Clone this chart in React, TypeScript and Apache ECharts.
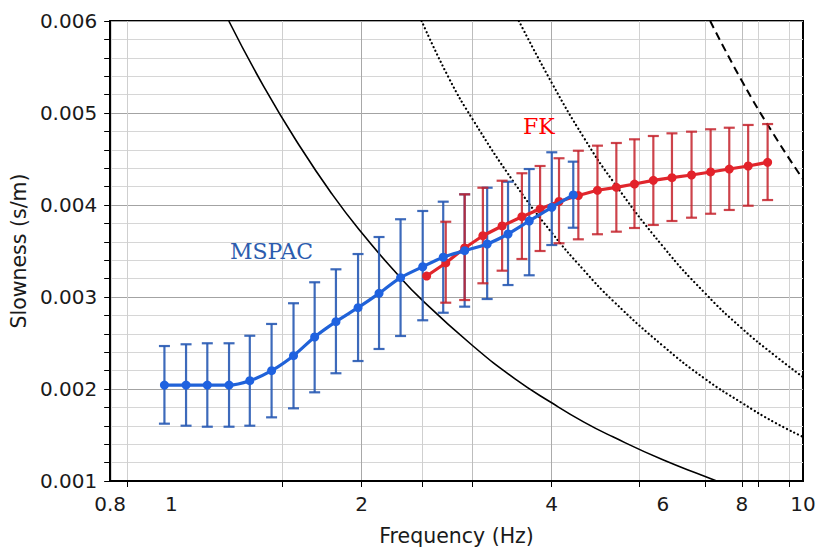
import { useEffect, useRef } from "react";
import * as echarts from "echarts";

// ---- Data ----
const mspacFreq = [0.975, 1.055, 1.14, 1.234, 1.331, 1.441, 1.561, 1.686, 1.822, 1.975, 2.132, 2.306, 2.5, 2.694, 2.913, 3.162, 3.412, 3.686, 4.002, 4.328];
const mspacSlow = [0.002043, 0.002043, 0.002043, 0.002043, 0.00209, 0.002199, 0.002362, 0.002565, 0.002732, 0.002884, 0.00304, 0.00321, 0.003329, 0.003432, 0.003503, 0.003576, 0.003685, 0.003826, 0.003975, 0.004109];
const mspacLow = [0.001623, 0.001601, 0.00159, 0.00159, 0.001601, 0.001692, 0.00179, 0.001964, 0.002171, 0.002304, 0.002435, 0.002576, 0.002747, 0.002829, 0.002895, 0.002978, 0.00313, 0.003236, 0.003565, 0.003753];
const mspacHigh = [0.002467, 0.002486, 0.002497, 0.002497, 0.002579, 0.002707, 0.002932, 0.00316, 0.003301, 0.003467, 0.003652, 0.003845, 0.003935, 0.004036, 0.004116, 0.004188, 0.004253, 0.004391, 0.004573, 0.004471];

const fkFreq = [2.536, 2.719, 2.913, 3.113, 3.339, 3.589, 3.835, 4.109, 4.409, 4.727, 5.064, 5.41, 5.795, 6.202, 6.661, 7.141, 7.643, 8.188, 8.79];
const fkSlow = [0.003228, 0.00337, 0.003533, 0.003666, 0.003772, 0.003873, 0.003957, 0.004038, 0.004103, 0.00416, 0.004192, 0.004228, 0.004268, 0.004297, 0.004326, 0.004359, 0.004391, 0.004424, 0.004464];
const fkLow = [null, 0.002938, 0.002967, 0.003149, 0.003286, 0.003413, 0.0035, 0.003584, 0.003627, 0.003682, 0.00371, 0.00375, 0.003783, 0.003826, 0.003862, 0.003905, 0.003946, 0.003992, 0.004054];
const fkHigh = [null, 0.003818, 0.004116, 0.004188, 0.004264, 0.004345, 0.004424, 0.004508, 0.00459, 0.004645, 0.004674, 0.004714, 0.00475, 0.004779, 0.004797, 0.004823, 0.00484, 0.00487, 0.00488];

// Limit curves
const solidFreq = [1.233, 1.4, 1.6, 1.8, 2, 2.25, 2.5, 3, 3.5, 4, 4.5, 5, 6, 7, 7.3];
const solidSlow = [0.006, 0.00529, 0.00463, 0.00411, 0.0037, 0.00329, 0.00296, 0.00247, 0.00211, 0.00185, 0.00164, 0.00148, 0.00123, 0.00105, 0.001];
const dot1Freq = [2.49, 2.75, 3, 3.5, 4, 4.5, 5, 6, 7, 8, 9, 10];
const dot1Slow = [0.006, 0.00538, 0.00493, 0.00423, 0.0037, 0.00329, 0.00296, 0.00247, 0.00211, 0.00185, 0.00164, 0.00148];
const dot2Freq = [3.55, 4, 4.5, 5, 6, 7, 8, 9, 10];
const dot2Slow = [0.006, 0.00533, 0.00473, 0.00426, 0.00355, 0.00304, 0.00266, 0.00237, 0.00213];
const dashFreq = [7.13, 8, 9, 10];
const dashSlow = [0.006, 0.00535, 0.00476, 0.00428];

const xLabelValues = [0.8, 1, 2, 4, 6, 8, 10];
const xGridValues = [0.85, 1.5, 2, 2.5, 3, 4, 5.5, 7, 8, 8.5, 9.5];

const pairs = (xs: number[], ys: (number | null)[]) => xs.map((x, i) => [x, ys[i]]);
const bars = (xs: number[], lo: (number | null)[], hi: (number | null)[]) =>
  xs.map((x, i) => [x, lo[i], hi[i]]).filter((d) => d[1] != null && d[2] != null);

const errorRender = (color: string) => (params: any, api: any) => {
  const x = api.value(0);
  const pLo = api.coord([x, api.value(1)]);
  const pHi = api.coord([x, api.value(2)]);
  const hw = 5.5;
  const style = { stroke: color, lineWidth: 2.2 };
  return {
    type: "group",
    children: [
      { type: "line", shape: { x1: pLo[0], y1: pLo[1], x2: pHi[0], y2: pHi[1] }, style },
      { type: "line", shape: { x1: pLo[0] - hw, y1: pLo[1], x2: pLo[0] + hw, y2: pLo[1] }, style },
      { type: "line", shape: { x1: pHi[0] - hw, y1: pHi[1], x2: pHi[0] + hw, y2: pHi[1] }, style },
    ],
  };
};

const axisFont = "'DejaVu Sans', Verdana, sans-serif";

export default function App() {
  const ref = useRef<HTMLDivElement>(null);
  useEffect(() => {
    const chart = echarts.init(ref.current!, null, { renderer: "svg" });
    const curve = (xs: number[], ys: number[], type: any, width: number, cap: any = "butt") => ({
      type: "line",
      data: pairs(xs, ys),
      smooth: true,
      symbol: "none",
      silent: true,
      z: 1,
      lineStyle: { color: "#000", width, type, cap },
    });
    chart.setOption({
      animation: false,
      backgroundColor: "#fff",
      grid: { left: 107, right: 16, top: 21, bottom: 73, show: true, borderColor: "#000", borderWidth: 2, backgroundColor: "transparent" },
      xAxis: {
        type: "log",
        logBase: 10,
        min: 0.8,
        max: 10,
        name: "Frequency (Hz)",
        nameLocation: "middle",
        nameGap: 44,
        nameTextStyle: { fontFamily: axisFont, fontSize: 20.5, color: "#1a1a1a" },
        axisLine: { show: true, lineStyle: { color: "#000", width: 2 } },
        axisTick: { show: true, inside: false, length: 6, customValues: xGridValues, lineStyle: { color: "#000" } },
        axisLabel: {
          customValues: xLabelValues,
          margin: 13,
          fontFamily: axisFont,
          fontSize: 20,
          color: "#1a1a1a",
          formatter: (v: number) => String(+Number(v).toPrecision(3)),
        },
        splitLine: {
          show: true,
          lineStyle: {
            width: 1,
            color: ["#cfcfcf", "#cfcfcf", "#a8a8a8", "#cfcfcf", "#bdbdbd", "#ababab", "#d2d2d2", "#cfcfcf", "#bdbdbd", "#d2d2d2", "#d2d2d2"],
          },
        },
        minorTick: { show: false },
      },
      yAxis: {
        type: "value",
        min: 0.001,
        max: 0.006,
        interval: 0.001,
        name: "Slowness (s/m)",
        nameLocation: "middle",
        nameGap: 64,
        nameTextStyle: { fontFamily: axisFont, fontSize: 20.5, color: "#1a1a1a" },
        axisLine: { show: true, lineStyle: { color: "#000", width: 2 } },
        axisTick: { show: true, inside: false, length: 6, lineStyle: { color: "#000" } },
        minorTick: { show: true, splitNumber: 5, length: 6, lineStyle: { color: "#000" } },
        axisLabel: {
          margin: 13,
          fontFamily: axisFont,
          fontSize: 20,
          color: "#1a1a1a",
          formatter: (v: number) => v.toFixed(3),
        },
        splitLine: { show: true, lineStyle: { color: "#a3a3a3", width: 1.2 } },
        minorSplitLine: { show: true, lineStyle: { color: "#d6d6d6", width: 1 } },
      },
      series: [
        curve(solidFreq, solidSlow, "solid", 1.6),
        curve(dot1Freq, dot1Slow, [0.1, 4], 2.2, "round"),
        curve(dot2Freq, dot2Slow, [0.1, 4], 2.2, "round"),
        curve(dashFreq, dashSlow, [8, 5], 2),
        {
          type: "custom",
          name: "MSPAC error",
          data: bars(mspacFreq, mspacLow, mspacHigh),
          encode: { x: 0, y: [1, 2] },
          renderItem: errorRender("rgba(40,90,180,0.9)"),
          z: 2,
        },
        {
          type: "custom",
          name: "FK error",
          data: bars(fkFreq, fkLow, fkHigh),
          encode: { x: 0, y: [1, 2] },
          renderItem: errorRender("rgba(196,34,44,0.85)"),
          z: 3,
        },
        {
          type: "line",
          name: "FK",
          data: pairs(fkFreq, fkSlow),
          symbol: "circle",
          symbolSize: 9,
          itemStyle: { color: "#e3222a" },
          lineStyle: { color: "#e0262c", width: 3.2 },
          z: 4,
        },
        {
          type: "line",
          name: "MSPAC",
          data: pairs(mspacFreq, mspacSlow),
          smooth: 0.25,
          symbol: "circle",
          symbolSize: 9,
          itemStyle: { color: "#1f62e0" },
          lineStyle: { color: "#2062d8", width: 3.2 },
          z: 5,
        },
      ],
      graphic: [
        {
          type: "text",
          x: 230,
          y: 251,
          z: 10,
          style: { text: "MSPAC", fontFamily: "'DejaVu Serif', serif", fontSize: 22, fill: "#2c5cae", textVerticalAlign: "middle" },
        },
        {
          type: "text",
          x: 523,
          y: 126,
          z: 10,
          style: { text: "FK", fontFamily: "'DejaVu Serif', serif", fontSize: 22, fill: "#ff0000", textVerticalAlign: "middle" },
        },
      ],
    });
    return () => chart.dispose();
  }, []);
  return <div ref={ref} style={{ position: "absolute", left: 0, top: 0, width: 819, height: 554 }} />;
}
